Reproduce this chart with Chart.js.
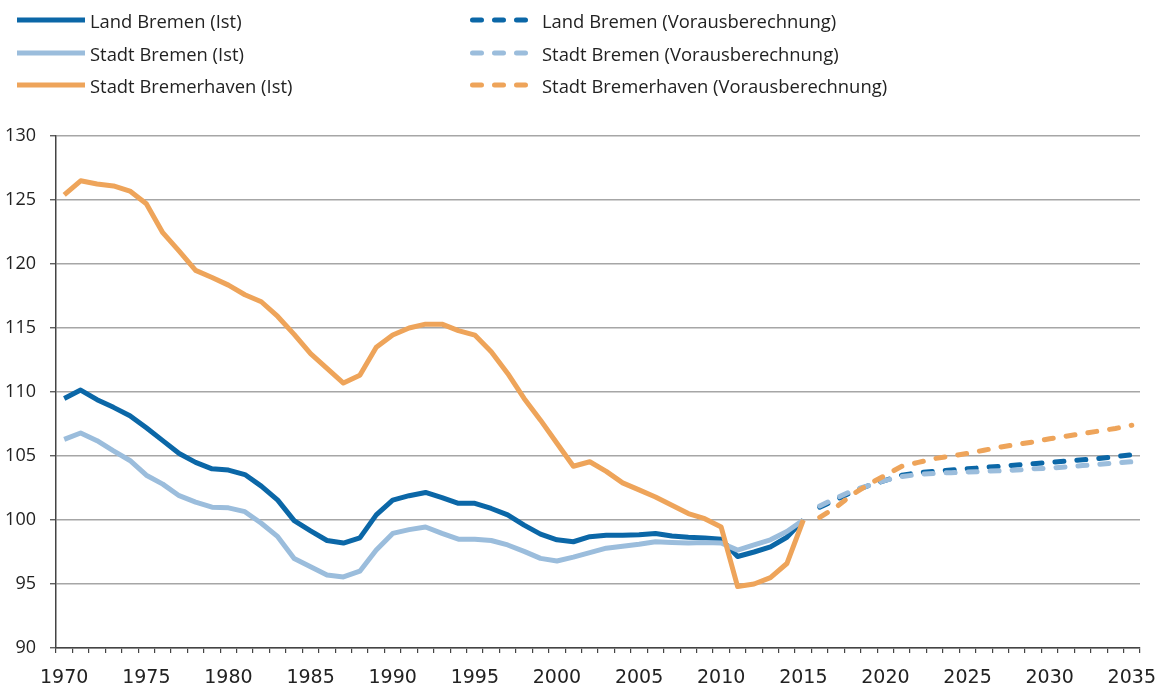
<!DOCTYPE html>
<html>
<head>
<meta charset="utf-8">
<script src="https://cdn.jsdelivr.net/npm/chart.js@4.4.1/dist/chart.umd.min.js"></script>
<style>
  body { margin: 0; background: #fff; }
  #wrap { position: relative; width: 1160px; height: 683px; }
  #legend .item { position: absolute; height: 30px; display: flex; align-items: center;
    font-family: "Open Sans", sans-serif; font-size: 18.4px; color: #222; white-space: nowrap; }
  #legend svg { margin-right: 5px; }
</style>
</head>
<body>
<div id="wrap">
  <canvas id="myChart"></canvas>
  <div id="legend"></div>
</div>
<script>
const years = [1970,1971,1972,1973,1974,1975,1976,1977,1978,1979,
  1980,1981,1982,1983,1984,1985,1986,1987,1988,1989,
  1990,1991,1992,1993,1994,1995,1996,1997,1998,1999,
  2000,2001,2002,2003,2004,2005,2006,2007,2008,2009,
  2010,2011,2012,2013,2014,2015,2016,2017,2018,2019,
  2020,2021,2022,2023,2024,2025,2026,2027,2028,2029,
  2030,2031,2032,2033,2034,2035]
const xTickLabels = ['1970','1975','1980','1985','1990','1995','2000','2005','2010','2015','2020','2025','2030','2035']
const yTicks = [90, 95, 100, 105, 110, 115, 120, 125, 130]

// Ist: 1970 - 2015
const landIst = [109.5,110.15,109.4,108.8,108.15,107.2,106.2,105.2,104.5,104.0,
  103.9,103.55,102.65,101.55,99.95,99.15,98.4,98.2,98.6,100.4,
  101.55,101.9,102.15,101.75,101.3,101.3,100.9,100.4,99.6,98.9,
  98.45,98.3,98.7,98.8,98.8,98.85,98.95,98.75,98.65,98.6,
  98.5,97.15,97.5,97.9,98.65,100]
const stadtIst = [106.3,106.8,106.2,105.4,104.65,103.5,102.8,101.9,101.4,101.0,
  100.95,100.65,99.75,98.7,97.0,96.35,95.7,95.55,96.0,97.65,
  98.95,99.25,99.45,98.95,98.5,98.5,98.4,98.05,97.55,97.0,
  96.8,97.1,97.45,97.8,97.95,98.1,98.3,98.25,98.2,98.25,
  98.2,97.65,98.05,98.45,99.1,100]
const bhvIst = [125.4,126.5,126.25,126.1,125.7,124.7,122.45,121.0,119.5,118.95,
  118.35,117.6,117.05,115.9,114.5,113.0,111.85,110.7,111.3,113.5,
  114.45,115.0,115.3,115.3,114.8,114.45,113.15,111.45,109.5,107.8,
  106.0,104.2,104.55,103.8,102.9,102.35,101.8,101.15,100.5,100.1,
  99.45,94.8,95.0,95.5,96.6,100]

// Vorausberechnung: 2016 - 2035
const landProg = [101.0,101.6,102.2,102.7,103.1,103.5,103.7,103.8,103.9,104.0,
  104.1,104.2,104.3,104.4,104.5,104.6,104.7,104.8,104.95,105.1]
const stadtProg = [101.1,101.7,102.3,102.7,103.1,103.4,103.55,103.65,103.7,103.75,
  103.8,103.85,103.9,104.0,104.05,104.15,104.25,104.35,104.45,104.55]
const bhvProg = [100.2,101.0,102.0,102.8,103.5,104.2,104.5,104.8,105.0,105.2,
  105.45,105.7,105.9,106.1,106.35,106.55,106.75,106.95,107.15,107.4]

const dunkelblau = '#0b67a7'
const hellblau = '#9bbddc'
const orange = '#eea45a'

const ist = arr => arr.concat(new Array(years.length - arr.length).fill(null))
const prog = arr => new Array(years.length - arr.length).fill(null).concat(arr)

function serie(label, data, color, dashed) {
  return {
    label: label,
    data: data,
    borderColor: color,
    backgroundColor: color,
    borderWidth: 5,
    pointRadius: 0,
    pointHoverRadius: 0,
    tension: 0,
    borderJoinStyle: 'round',
    borderCapStyle: dashed ? 'round' : 'butt',
    borderDash: dashed ? [9, 13] : [],
    fill: false
  }
}

// erste Datenreihe wird zuletzt (oben) gezeichnet
const datasets = [
  serie('Stadt Bremerhaven (Ist)', ist(bhvIst), orange, false),
  serie('Stadt Bremerhaven (Vorausberechnung)', prog(bhvProg), orange, true),
  serie('Stadt Bremen (Ist)', ist(stadtIst), hellblau, false),
  serie('Stadt Bremen (Vorausberechnung)', prog(stadtProg), hellblau, true),
  serie('Land Bremen (Ist)', ist(landIst), dunkelblau, false),
  serie('Land Bremen (Vorausberechnung)', prog(landProg), dunkelblau, true)
]

// Legende: 2 Spalten, 3 Zeilen
const legendRows = ['Land Bremen', 'Stadt Bremen', 'Stadt Bremerhaven']
const legendCols = [{ suffix: ' (Ist)', left: 17 }, { suffix: ' (Vorausberechnung)', left: 470 }]
const legendY = [5, 38, 70]
const legend = document.getElementById('legend')
legendRows.forEach((name, r) => {
  legendCols.forEach(col => {
    const ds = datasets.find(d => d.label === name + col.suffix)
    const dashed = ds.borderDash.length > 0
    const div = document.createElement('div')
    div.className = 'item'
    div.style.left = col.left + 'px'
    div.style.top = legendY[r] + 'px'
    const line = dashed
      ? '<line x1="2.5" y1="5" x2="57.5" y2="5" stroke="' + ds.borderColor + '" stroke-width="5" stroke-linecap="round" stroke-dasharray="9 13"/>'
      : '<line x1="0" y1="5" x2="68" y2="5" stroke="' + ds.borderColor + '" stroke-width="5"/>'
    div.innerHTML = '<svg width="' + (dashed ? 67 : 68) + '" height="10">' + line + '</svg><span>' + ds.label + '</span>'
    legend.appendChild(div)
  })
})

const ctx = document.getElementById('myChart').getContext('2d')
const myChart = new Chart(ctx, {
  type: 'line',
  data: {
    labels: years.map(String),
    datasets: datasets
  },
  options: {
    responsive: true,
    maintainAspectRatio: false,
    animation: false,
    layout: {
      padding: { top: 136, right: 20, left: 0, bottom: 0 }
    },
    plugins: {
      legend: { display: false },
      tooltip: { enabled: false }
    },
    scales: {
      x: {
        type: 'category',
        offset: true,
        afterFit: scale => {
          scale.height = 35
          scale.paddingLeft = 0
          scale.paddingRight = 0
        },
        border: { display: true, color: '#444', width: 1.5 },
        grid: {
          display: true,
          offset: true,
          drawOnChartArea: false,
          drawTicks: true,
          tickLength: 5,
          color: '#444',
          lineWidth: 1.2
        },
        ticks: {
          autoSkip: false,
          maxRotation: 0,
          minRotation: 0,
          padding: 14,
          color: '#222',
          font: { family: 'DejaVu Sans', size: 19 },
          callback: function (value) {
            const l = this.getLabelForValue(value)
            return xTickLabels.includes(l) ? l : ''
          }
        }
      },
      y: {
        min: 90,
        max: 130,
        afterFit: scale => { scale.width = 56 },
        afterBuildTicks: scale => { scale.ticks = yTicks.map(v => ({ value: v })) },
        border: { display: true, color: '#444', width: 1.5 },
        grid: {
          color: '#a6a6a6',
          lineWidth: 1.5,
          drawTicks: true,
          tickLength: 6,
          tickColor: '#444',
          tickWidth: 1.2
        },
        ticks: {
          padding: 14,
          color: '#222',
          font: { family: 'Open Sans', size: 18 }
        }
      }
    }
  }
})
</script>
</body>
</html>
